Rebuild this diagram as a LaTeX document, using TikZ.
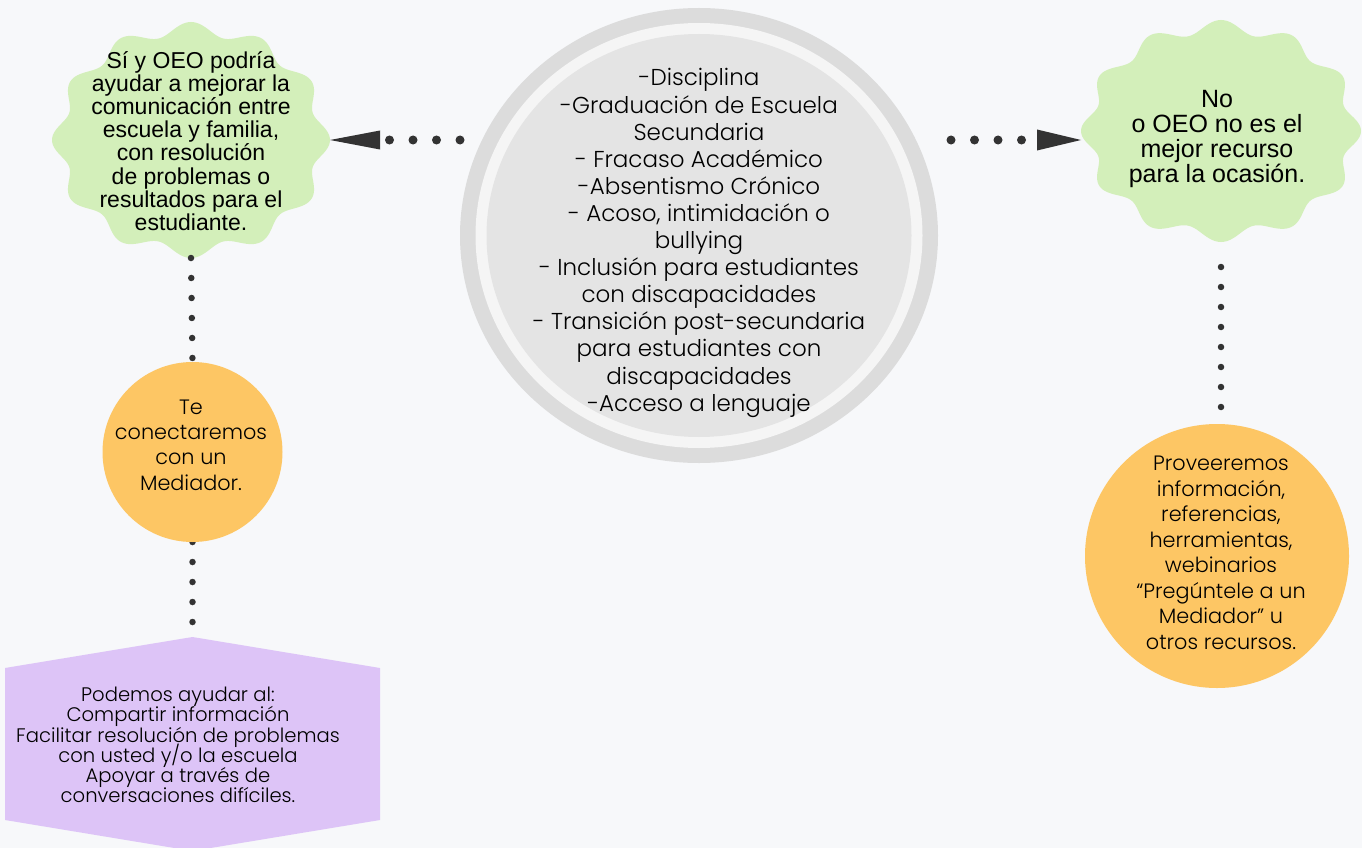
\documentclass[tikz,border=0pt]{standalone}
\usepackage{fontspec}
\setmainfont{Liberation Sans}
\newfontfamily\geo{Poppins Light}
\usetikzlibrary{arrows.meta,calc,shapes.geometric}
\definecolor{bgc}{HTML}{F7F8FA}
\definecolor{grn}{HTML}{D3EFBA}
\definecolor{ringc}{HTML}{DCDCDC}
\definecolor{gapc}{HTML}{F5F5F5}
\definecolor{innerc}{HTML}{E4E4E4}
\definecolor{org}{HTML}{FDC664}
\definecolor{prp}{HTML}{DDC4F7}
\definecolor{dotc}{HTML}{333333}
\pgfdeclarelayer{back}
\pgfsetlayers{back,main}
\newcommand{\tightlines}{\lineskiplimit=-50pt\lineskip=0pt}
\begin{document}
\begin{tikzpicture}[x=1pt,y=-1pt,
  hdots/.style={draw=dotc, line width=9pt, line cap=round, dash pattern=on 0pt off 23.5pt},
  vdots/.style={draw=dotc, line width=6.5pt, line cap=round, dash pattern=on 0pt off 20pt},
  holder/.style={inner sep=0pt, outer sep=0pt},
  gtext/.style={align=center, inner sep=0pt, text=black},
  ftext/.style={align=center, inner sep=0pt, text=black},
  orb/.style={circle, fill=org, inner sep=0pt, outer sep=0pt}
]
\useasboundingbox (0,0) rectangle (1362,848);

% anchor nodes
\node[holder, ellipse, minimum width=278, minimum height=236] (lg) at (191,140) {};
\node[holder, ellipse, minimum width=280, minimum height=222] (rg) at (1221,131) {};
\node[holder, ellipse, minimum width=478, minimum height=455] (ctr) at (699,235.5) {};
\node[orb, minimum size=180] (lo) at (192.5,452) {};
\node[orb, minimum size=264] (ro) at (1217,556) {};
\node[holder, minimum width=375, minimum height=152] (pp) at (192.5,744) {};
\coordinate (ra) at ($(rg.west)+(0,9)$);

% texts
\node[gtext, font=\fontsize{23}{23.2}\selectfont\tightlines] (lgt) at (191,141) {Sí y OEO podría\\ayudar a mejorar la\\comunicación entre\\escuela y familia,\\con resolución\\de problemas o\\resultados para el\\estudiante.};
\node[gtext, font=\fontsize{25}{25}\selectfont\tightlines] (rgt) at (1217,139) {No\\o OEO no es el\\mejor recurso\\para la ocasión.};
\node[ftext, font=\geo\fontsize{23}{27.1}\selectfont\tightlines] (ctrt) at (699,243) {-Disciplina\\-Graduación de Escuela\\Secundaria\\- Fracaso Académico\\-Absentismo Crónico\\- Acoso, intimidación o\\bullying\\- Inclusión para estudiantes\\con discapacidades\\- Transición post-secundaria\\para estudiantes con\\discapacidades\\-Acceso a lenguaje};
\node[ftext, font=\geo\fontsize{20.8}{25.3}\selectfont\tightlines] (lot) at (191,445) {Te\\conectaremos\\con un\\Mediador.};
\node[ftext, font=\geo\fontsize{20.8}{25.5}\selectfont\tightlines] (rot) at (1221,553) {Proveeremos\\información,\\referencias,\\herramientas,\\webinarios\\“Pregúntele a un\\Mediador” u\\otros recursos.};
\node[ftext, font=\geo\fontsize{19.6}{20.3}\selectfont\tightlines] (ppt) at (178,745) {Podemos ayudar al:\\Compartir información\\Facilitar resolución de problemas\\con usted y/o la escuela\\Apoyar a través de\\conversaciones difíciles.};

\begin{pgfonlayer}{back}
\fill[bgc] (0,0) rectangle (1362,848);
% central rings
\fill[ringc] (ctr.center) ellipse [x radius=239, y radius=227.5];
\fill[gapc] (ctr.center) ellipse [x radius=223.5, y radius=212.5];
\fill[innerc] (ctr.center) ellipse [x radius=212.5, y radius=201.5];
% wavy green shapes
\fill[grn, shift={(lg.center)}] plot[domain=0:360, samples=361, variable=\t]
  ({(132.5+6.5*cos(12*\t))*cos(\t)}, {(111.5+6.5*cos(12*\t))*sin(\t)}) -- cycle;
\fill[grn, shift={(rg.center)}] plot[domain=0:360, samples=361, variable=\t]
  ({(133.5+6.5*cos(12*\t))*cos(\t)}, {(104.5+6.5*cos(12*\t))*sin(\t)}) -- cycle;
% connectors
\draw[hdots, -{Triangle[length=50pt, width=19pt, line width=0pt]}] (ctr.west |- lg.east) -- (lg.east);
\draw[hdots, shorten <=13pt, -{Triangle[length=44pt, width=21pt, line width=0pt]}] (ctr.east |- ra) -- (ra);
\draw[vdots] (lg.south) -- (lo.north);
\draw[vdots] (lo.south) -- (pp.north);
\draw[vdots, shorten <=25pt] (rg.south) -- (rg.south |- ro.north);
% purple hexagon
\fill[prp] (pp.north west) -- ($(pp.north)+(0,-31)$) -- (pp.north east) -- (pp.south east) -- ($(pp.south)+(0,31)$) -- (pp.south west) -- cycle;
\end{pgfonlayer}
\end{tikzpicture}
\end{document}
